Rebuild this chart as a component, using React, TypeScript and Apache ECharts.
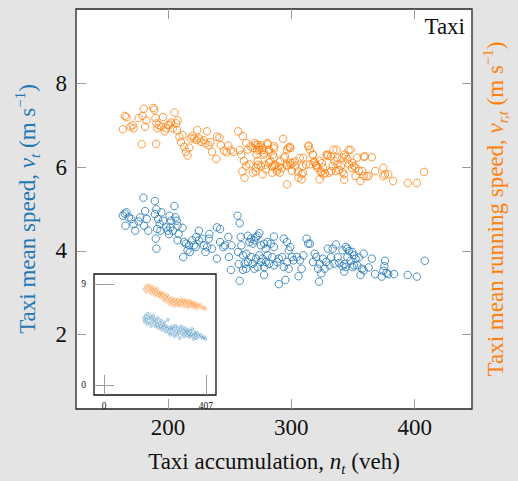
import React, { useEffect, useRef } from "react";
import * as echarts from "echarts";

// Taxi mean speed v_t (m/s) vs accumulation n_t (veh) — blue, left axis
const taxiSpeed: [number, number][] = [
  [163.5,4.84],[165.1,4.89],[166.4,4.92],[168.3,4.80],[170.4,4.76],[165.6,4.60],[172.2,4.64],[173.5,4.48],[176.2,4.70],[177.5,4.80],
  [180.2,5.27],[181.5,4.95],[182.8,4.76],[180.7,4.60],[184.1,4.48],
  [189.4,5.19],[190.7,4.99],[189.4,4.88],[192.1,4.76],[193.4,4.64],[194.7,4.92],[196.0,4.72],[191.3,4.52],[193.9,4.48],[198.7,4.56],
  [200.0,4.48],[200.8,4.40],[201.3,4.84],[202.6,4.72],[201.9,4.56],[204.0,4.48],[205.3,5.07],[206.1,4.80],[207.1,4.72],[207.9,4.60],
  [208.7,4.40],[211.9,4.55],[207.9,4.25],[213.2,4.21],[214.6,4.17],[215.9,4.01],[217.7,3.97],[217.2,4.13],[219.8,4.25],[221.2,4.13],
  [222.5,4.09],[223.0,4.33],[225.1,4.48],[225.1,4.25],[227.8,4.29],[229.1,4.13],[230.4,3.97],[231.8,4.09],[233.1,4.29],[233.6,4.40],
  [235.7,4.05],[239.7,4.56],[242.3,4.52],[239.7,3.81],[242.3,4.21],[245.0,4.09],[246.3,4.13],[249.0,4.33],[251.6,4.13],[249.5,3.85],
  [251.1,3.54],[256.4,4.84],[258.2,4.66],[256.9,3.97],[259.0,4.33],[259.5,4.13],[260.9,3.89],[262.2,3.69],[257.4,3.68],[260.9,3.54],
  [258.2,3.28],[190.7,4.05],[190.2,4.29],[212.4,3.85],
  [264.8,4.36],[266.1,4.21],[267.4,4.29],[268.8,4.17],[270.1,4.25],[271.4,4.32],[272.7,4.36],[274.1,4.42],[275.4,4.13],[278.0,4.17],
  [279.3,4.05],[280.7,4.21],[283.3,4.17],[286.0,4.34],[286.0,4.09],[293.9,4.29],[296.5,4.21],[299.2,4.09],[297.9,4.01],[263.5,3.93],
  [264.8,3.73],[267.4,3.85],[268.8,3.69],[271.4,3.81],[272.7,3.61],[274.1,3.89],[275.4,3.73],[276.7,3.81],[278.0,3.61],[279.3,3.73],
  [280.7,3.89],[282.0,3.69],[284.6,3.85],[286.0,3.65],[288.6,3.73],[289.9,3.81],[292.6,3.85],[293.9,3.61],[296.5,3.73],[297.9,3.57],
  [300.5,3.85],[301.8,3.77],[304.5,3.85],[307.1,3.77],[308.4,3.57],[309.8,3.89],[312.4,4.29],[313.7,4.17],[315.1,4.17],[317.7,3.73],
  [319.0,3.93],[320.3,3.85],[321.7,3.57],[323.0,3.69],[324.3,3.46],[325.6,3.81],[327.0,3.57],[328.3,3.73],[329.6,4.05],[330.9,3.65],
  [332.3,3.85],[333.6,4.05],[278.0,3.42],[289.9,3.20],[295.2,3.30],[305.8,3.39],[322.5,3.26],[263.5,3.57],[270.1,3.57],
  [336.2,4.15],[341.5,4.01],[344.2,4.09],[345.5,4.05],[346.8,3.99],[349.5,3.97],[350.8,3.89],[352.1,3.81],[354.8,3.84],[358.7,3.93],
  [365.3,3.81],[335.0,3.69],[337.6,3.84],[338.9,3.71],[341.5,3.63],[342.9,3.68],[344.2,3.61],[345.5,3.85],[348.1,3.76],[349.5,3.61],
  [350.8,3.65],[353.4,3.65],[357.4,3.57],[358.7,3.53],[362.7,3.60],[368.0,3.44],[373.3,3.38],[374.6,3.52],[375.4,3.63],[376.0,3.76],
  [377.2,3.47],[378.6,3.44],[383.3,3.44],[394.4,3.42],[401.8,3.38],[408.2,3.76],[356.1,3.42],[342.9,3.50]
];

// Taxi mean running speed v_{r,t} (m/s) — orange, right axis
const taxiRunningSpeed: [number, number][] = [
  [163.5,6.91],[165.1,7.23],[166.4,7.20],[169.6,6.97],[171.4,7.01],[172.2,6.93],[176.2,7.18],[179.4,7.23],[180.4,7.40],[178.8,6.55],
  [181.5,6.97],[182.8,7.12],[188.1,7.42],[188.9,7.38],[189.9,7.18],[190.7,7.05],[191.5,6.93],[190.5,6.56],[192.6,7.01],[194.7,6.97],
  [196.0,7.20],[197.4,6.86],[198.7,6.93],[200.0,7.01],[201.3,7.02],[202.6,7.07],[204.0,6.93],[205.3,7.31],[206.6,7.05],[207.9,7.12],
  [207.4,6.89],[209.3,6.73],[210.6,6.60],[211.9,6.77],[213.2,6.49],[214.6,6.37],[215.9,6.28],[217.2,6.47],[218.5,6.69],[219.8,6.75],
  [221.2,6.69],[223.3,6.65],[223.8,6.89],[225.1,6.69],[227.0,6.61],[229.1,6.65],[230.4,6.57],[231.7,6.86],[233.1,6.53],[234.4,6.60],
  [235.7,6.37],[239.2,6.20],[239.7,6.73],[241.8,6.71],[242.9,6.53],[245.5,6.39],[247.6,6.36],[248.9,6.52],[250.8,6.41],[252.9,6.37],
  [256.9,6.86],[258.2,6.41],[259.5,6.30],[260.3,5.90],
  [260.8,6.74],[263.5,6.58],[264.8,6.42],[266.9,6.50],[268.8,6.46],[270.6,6.58],[272.7,6.54],[274.1,6.42],[276.7,6.46],[278.0,6.34],
  [280.7,6.58],[282.0,6.42],[286.0,6.50],[286.0,6.23],[293.4,6.68],[296.5,6.42],[299.2,6.46],[261.6,6.15],[263.5,6.03],[266.1,6.07],
  [268.8,5.87],[271.4,5.99],[272.7,6.15],[275.4,6.03],[276.7,5.83],[279.3,5.95],[282.0,6.11],[284.6,5.87],[286.0,6.03],[288.6,5.95],
  [290.7,5.87],[293.9,6.23],[296.5,6.03],[299.2,6.11],[300.5,5.91],[303.2,6.03],[305.8,5.75],[308.4,5.83],[309.8,6.23],[313.7,6.50],
  [315.1,6.42],[317.7,6.30],[319.0,6.11],[320.3,6.03],[323.0,6.15],[324.3,5.87],[325.6,5.99],[329.6,6.27],[296.5,5.59],[308.4,5.71],
  [262.1,5.75],[323.0,5.71],[330.9,5.87],
  [271.1,6.53],[272.4,6.41],[273.8,6.49],[271.9,6.30],[273.0,6.06],[271.1,5.90],[275.1,6.53],[276.4,6.41],[277.7,6.30],[279.1,6.06],
  [280.9,6.55],[281.7,6.37],[283.0,6.14],[284.4,6.02],[285.1,6.30],[286.2,6.45],[287.0,6.06],[288.3,5.90],[289.6,6.02],[291.0,6.14],
  [292.3,5.98],[294.9,6.26],[296.3,6.06],[297.6,6.47],[298.9,6.49],[299.4,6.06],[301.0,6.10],[302.9,6.14],[305.5,5.90],[306.8,6.22],
  [309.0,6.02],[309.5,5.86],[312.1,6.06],[314.2,6.52],[315.3,6.07],[317.4,6.30],[318.7,6.14],[320.1,6.06],[321.4,5.98],[324.0,5.90],
  [324.8,6.10],[325.9,5.82],[327.5,5.86],[328.5,6.30],[329.3,6.30],
  [334.1,6.42],[336.8,6.42],[348.1,6.42],[332.3,6.26],[342.9,6.30],[341.5,6.23],[344.2,6.26],[345.5,6.19],[353.4,6.23],[358.7,6.25],
  [365.3,6.24],[335.0,6.15],[337.6,6.07],[333.6,6.03],[340.2,6.03],[346.8,6.07],[349.5,6.11],[350.8,6.03],[352.1,5.99],[332.3,5.91],
  [336.2,5.91],[338.9,5.93],[341.5,5.89],[342.9,5.83],[354.8,5.91],[357.4,5.91],[368.0,5.91],[374.6,5.99],[376.0,5.83],[378.6,5.83],
  [374.6,5.79],[352.1,5.79],[358.7,5.79],[362.7,5.79],[342.9,5.70],[356.1,5.67],[382.5,5.67],[394.4,5.62],[401.8,5.62],[407.7,5.89],
  [346.5,6.41],[359.7,6.26],[349.2,5.98],[337.3,6.22],[361.1,5.78]
];

// Inset clouds (axis 0..407 veh, 0..9 m/s)
const insetSpeed: [number, number][] = [
  [158.8,5.96],[161.4,5.66],[165.5,6.17],[169.5,5.81],[172.1,5.46],[174.8,6.34],[178.8,5.96],[182.8,5.57],[185.5,6.10],[188.1,5.28],
  [192.1,5.81],[196.1,6.17],[198.8,5.52],[201.5,5.87],[205.5,5.22],[209.5,5.66],[212.1,5.37],[214.8,5.96],[218.8,5.07],[222.8,5.52],
  [225.5,5.22],[228.1,5.75],[232.2,4.93],[236.2,5.37],[238.8,5.16],[241.5,5.57],[245.5,4.78],[249.5,5.22],[252.2,4.99],[254.8,5.81],
  [258.8,4.69],[262.8,5.07],[265.5,4.48],[268.2,4.93],[272.2,5.22],[276.2,4.63],[278.8,4.99],[281.5,4.34],[285.5,5.28],[289.5,4.78],
  [292.2,4.48],[294.8,5.07],[298.9,4.69],[302.9,4.19],[305.5,4.93],[308.2,5.22],[312.2,4.57],[316.2,4.87],[318.9,4.34],[321.5,5.07],
  [325.5,4.63],[329.5,4.78],[332.2,4.40],[334.9,4.93],[338.9,4.57],[342.9,4.28],[345.5,4.78],[348.2,4.48],[352.2,4.99],[356.2,4.40],
  [358.9,4.10],[361.5,4.69],[365.5,4.48],[369.5,4.19],[372.2,4.63],[378.9,4.34],[385.6,4.48],[392.2,4.19],[398.9,4.28],[405.6,4.10]
];
const insetRunningSpeed: [number, number][] = [
  [161.4,8.53],[165.5,8.76],[169.5,8.32],[174.8,8.91],[178.8,8.61],[182.8,8.41],[185.5,8.82],[188.1,8.17],[192.1,8.53],[196.1,8.70],
  [198.8,8.32],[201.5,8.02],[205.5,8.47],[209.5,8.23],[212.1,8.61],[214.8,7.94],[218.8,8.32],[222.8,8.11],[225.5,7.82],[228.1,8.23],
  [232.2,8.02],[236.2,7.73],[238.8,8.17],[241.5,7.52],[245.5,7.88],[249.5,7.64],[252.2,8.02],[254.8,7.35],[258.8,7.82],[262.8,7.58],
  [265.5,7.14],[268.2,7.43],[272.2,7.73],[276.2,7.29],[278.8,7.52],[281.5,7.05],[285.5,7.64],[289.5,7.35],[292.2,7.14],[294.8,7.58],
  [298.9,7.29],[302.9,7.05],[305.5,7.43],[308.2,7.64],[312.2,7.23],[316.2,7.52],[318.9,6.99],[321.5,7.35],[325.5,7.58],[329.5,7.14],
  [332.2,7.35],[334.9,6.93],[338.9,7.52],[342.9,7.23],[345.5,7.05],[348.2,7.43],[352.2,7.29],[356.2,6.93],[358.9,7.14],[361.5,7.35],
  [365.5,7.05],[369.5,6.84],[372.2,7.23],[378.9,6.99],[385.6,7.14],[392.2,6.84],[398.9,6.93],[405.6,6.78]
];

const xTicks = [200, 300, 400];
const yTicks = [2, 4, 6, 8];
const insetXTicks = [0, 407];
const insetYTicks = [0, 9];

const SERIF = "Liberation Serif";
const BLUE = "#1f77b4";
const ORANGE = "#ff7f0e";
const INK = "#111111";

function rich(color: string) {
  return {
    a: { fontFamily: SERIF, fontSize: 23, color, lineHeight: 30 },
    i: { fontFamily: SERIF, fontSize: 23, fontStyle: "italic", color, lineHeight: 30 },
    s: { fontFamily: SERIF, fontSize: 15, fontStyle: "italic", color, lineHeight: 17, verticalAlign: "bottom" },
    p: { fontFamily: SERIF, fontSize: 15, color, lineHeight: 20, verticalAlign: "top" },
  };
}

const tick = (vals: number[], len = 10) => ({
  show: true,
  inside: true,
  length: len,
  customValues: vals,
  lineStyle: { color: "#9c9c9c", width: 1 },
});

const label = (vals: number[], margin: number, size: number) => ({
  customValues: vals,
  margin,
  fontFamily: SERIF,
  fontSize: size,
  color: INK,
});

export default function App() {
  const ref = useRef<HTMLDivElement>(null);
  useEffect(() => {
    if (!ref.current) return;
    const chart = echarts.init(ref.current, undefined, { renderer: "svg" });
    const noSplit = { show: false };
    const noLine = { show: false };
    const option: any = {
      animation: false,
      backgroundColor: "#e4e4e4",
      textStyle: { fontFamily: SERIF },
      grid: [
        { left: 76, top: 9, width: 405, height: 405, show: true, backgroundColor: "#ffffff", borderColor: "#222", borderWidth: 1.3, z: 0 },
        { left: 94, top: 274, width: 122, height: 121, show: true, backgroundColor: "#ffffff", borderColor: "#111", borderWidth: 1.3, z: 5 },
      ],
      xAxis: [
        {
          gridIndex: 0, type: "value", position: "bottom", min: 125.5, max: 446.5,
          axisLine: noLine, splitLine: noSplit, axisTick: tick(xTicks),
          axisLabel: label(xTicks, 7, 23),
          name: "{a|Taxi accumulation, }{i|n}{s|t}{a| (veh)}",
          nameLocation: "middle", nameGap: 37,
          nameTextStyle: { fontFamily: SERIF, rich: rich(INK) },
        },
        {
          gridIndex: 0, type: "value", position: "top", min: 125.5, max: 446.5,
          axisLine: noLine, splitLine: noSplit, axisTick: tick(xTicks), axisLabel: { show: false },
        },
        {
          gridIndex: 1, type: "value", position: "bottom", min: -40.7, max: 447.7, z: 6,
          axisLine: noLine, splitLine: noSplit, axisTick: tick(insetXTicks),
          axisLabel: label(insetXTicks, 6, 9.5),
        },
        {
          gridIndex: 1, type: "value", position: "top", min: -40.7, max: 447.7, z: 6,
          axisLine: noLine, splitLine: noSplit, axisTick: tick(insetXTicks), axisLabel: { show: false },
        },
      ],
      yAxis: [
        {
          gridIndex: 0, type: "value", position: "left", min: 0.21, max: 9.79,
          axisLine: noLine, splitLine: noSplit, axisTick: tick(yTicks),
          axisLabel: label(yTicks, 9, 23),
          name: "{a|Taxi mean speed, }{i|v}{s|t}{a| (m s}{p|−1}{a|)}",
          nameLocation: "middle", nameRotate: 90, nameGap: 34,
          nameTextStyle: { fontFamily: SERIF, rich: rich(BLUE) },
        },
        {
          gridIndex: 0, type: "value", position: "right", min: 0.21, max: 9.79,
          axisLine: noLine, splitLine: noSplit, axisTick: tick(yTicks), axisLabel: { show: false },
          name: "{a|Taxi mean running speed, }{i|v}{s|r,t}{a| (m s}{p|−1}{a|)}",
          nameLocation: "middle", nameRotate: 90, nameGap: 8,
          nameTextStyle: { fontFamily: SERIF, rich: rich(ORANGE) },
        },
        {
          gridIndex: 1, type: "value", position: "left", min: -0.9, max: 9.9, z: 6,
          axisLine: noLine, splitLine: noSplit, axisTick: tick(insetYTicks),
          axisLabel: label(insetYTicks, 8, 9.5),
        },
        {
          gridIndex: 1, type: "value", position: "right", min: -0.9, max: 9.9, z: 6,
          axisLine: noLine, splitLine: noSplit, axisTick: tick(insetYTicks), axisLabel: { show: false },
        },
      ],
      graphic: [
        {
          type: "text", x: 465, y: 26, z: 20,
          style: {
            text: "Taxi", fill: INK, fontFamily: SERIF, fontSize: 23,
            textAlign: "right", textVerticalAlign: "middle", align: "right", verticalAlign: "middle",
          },
        },
      ],
      series: [
        {
          type: "scatter", name: "Taxi mean speed", xAxisIndex: 0, yAxisIndex: 0, data: taxiSpeed,
          symbol: "circle", symbolSize: 7.5, z: 2,
          itemStyle: { color: "rgba(255,255,255,0)", borderColor: BLUE, borderWidth: 1 },
          emphasis: { disabled: true }, silent: true,
        },
        {
          type: "scatter", name: "Taxi mean running speed", xAxisIndex: 0, yAxisIndex: 1, data: taxiRunningSpeed,
          symbol: "circle", symbolSize: 7.5, z: 2,
          itemStyle: { color: "rgba(255,255,255,0)", borderColor: ORANGE, borderWidth: 1 },
          emphasis: { disabled: true }, silent: true,
        },
        {
          type: "scatter", name: "inset speed", xAxisIndex: 2, yAxisIndex: 2, data: insetSpeed,
          symbol: "circle", symbolSize: 3, z: 10,
          itemStyle: { color: "rgba(31,119,180,0.25)", borderColor: "rgba(31,119,180,0.75)", borderWidth: 0.6 },
          emphasis: { disabled: true }, silent: true,
        },
        {
          type: "scatter", name: "inset running speed", xAxisIndex: 2, yAxisIndex: 2, data: insetRunningSpeed,
          symbol: "circle", symbolSize: 3, z: 10,
          itemStyle: { color: "rgba(255,127,14,0.25)", borderColor: "rgba(255,127,14,0.75)", borderWidth: 0.6 },
          emphasis: { disabled: true }, silent: true,
        },
      ],
    };
    chart.setOption(option);
    return () => chart.dispose();
  }, []);
  return (
    <div
      ref={ref}
      style={{ position: "absolute", left: 0, top: 0, width: 518, height: 481 }}
    />
  );
}
